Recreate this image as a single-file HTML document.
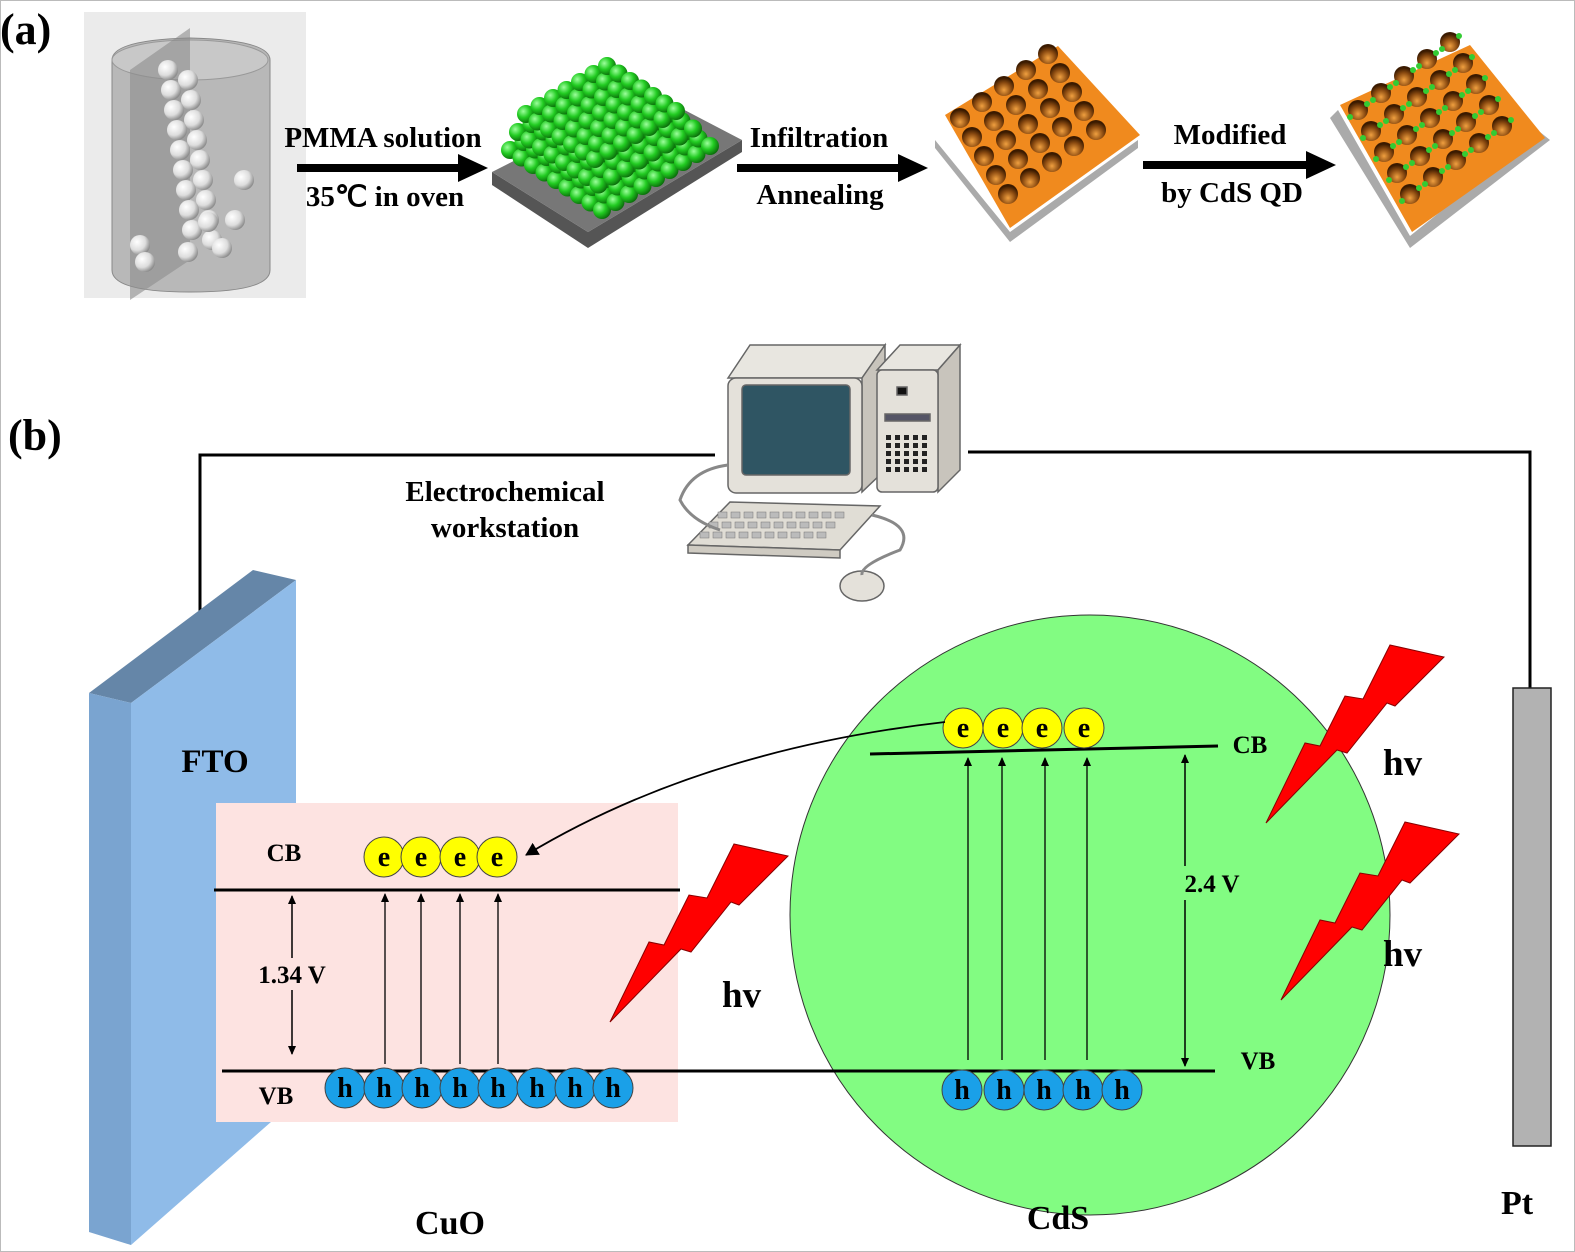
<!DOCTYPE html>
<html><head><meta charset="utf-8"><style>
html,body{margin:0;padding:0;background:#fff}
svg{display:block}
text{font-family:"Liberation Serif",serif;font-weight:bold;fill:#000}
</style></head><body>
<svg id="s" width="1575" height="1252" viewBox="0 0 1575 1252" xmlns="http://www.w3.org/2000/svg">
<defs>
<marker id="ah" markerWidth="10" markerHeight="10" refX="8" refY="5" orient="auto" markerUnits="userSpaceOnUse"><path d="M0,1 L9,5 L0,9 Z" fill="#000"/></marker>
<marker id="ahb" markerWidth="14" markerHeight="14" refX="12" refY="7" orient="auto" markerUnits="userSpaceOnUse"><path d="M0,0 L13,7 L0,14 Z" fill="#000"/></marker>
<radialGradient id="gs" cx="0.35" cy="0.35" r="0.7"><stop offset="0" stop-color="#9cff9c"/><stop offset="0.5" stop-color="#22cc22"/><stop offset="1" stop-color="#0a6a0a"/></radialGradient>
<radialGradient id="ws" cx="0.35" cy="0.35" r="0.7"><stop offset="0" stop-color="#fff"/><stop offset="0.6" stop-color="#ddd"/><stop offset="1" stop-color="#888"/></radialGradient>
<radialGradient id="hole" cx="0.5" cy="0.7" r="0.6"><stop offset="0" stop-color="#f0a040"/><stop offset="0.6" stop-color="#8a4a10"/><stop offset="1" stop-color="#3a1a00"/></radialGradient>
</defs>
<rect x="0.5" y="0.5" width="1574" height="1251" fill="#fff" stroke="#bbb"/>

<!-- (a) -->
<text x="0" y="44" font-size="44">(a)</text>
<rect x="84" y="12" width="222" height="286" fill="#ebebeb"/>
<path d="M112,60 Q112,40 190,38 Q270,40 270,60 L270,270 Q270,292 190,292 Q112,292 112,270 Z" fill="#b8b8b8" stroke="#888"/>
<ellipse cx="190" cy="60" rx="78" ry="20" fill="#c8c8c8" stroke="#999"/>
<polygon points="130,70 190,28 190,260 130,300" fill="#8c8c8c" opacity="0.6"/>
<g id="cylballs"></g>

<g id="gblock">
<polygon points="492,172 588,232 742,140 742,152 588,248 492,185" fill="#555"/>
<polygon points="492,172 588,232 742,140 650,92" fill="#777"/>
</g>
<g id="gballs"></g>

<g id="ob1">
<polygon points="935,148 1010,242 1138,148 1138,140 1010,232 935,140" fill="#aaa"/>
<polygon points="945,115 1010,228 1140,135 1058,46" fill="#f08a1e"/>
</g>
<g id="oh1"></g>
<g id="ob2">
<polygon points="1330,118 1410,248 1550,140 1540,132 1410,236 1338,110" fill="#aaa"/>
<polygon points="1340,105 1412,232 1545,138 1470,45" fill="#f08a1e"/>
</g>
<g id="oh2"></g>

<g stroke="#000" stroke-width="8" fill="none">
<line x1="297" y1="168" x2="462" y2="168"/>
<line x1="737" y1="168" x2="902" y2="168"/>
<line x1="1143" y1="165" x2="1310" y2="165"/>
</g>
<polygon points="458,154 488,168 458,182" fill="#000"/>
<polygon points="898,154 928,168 898,182" fill="#000"/>
<polygon points="1306,151 1336,165 1306,179" fill="#000"/>
<g font-size="29" text-anchor="middle">
<text x="383" y="147">PMMA solution</text>
<text x="385" y="206">35℃  in oven</text>
<text x="819" y="147">Infiltration</text>
<text x="820" y="204">Annealing</text>
<text x="1230" y="144">Modified</text>
<text x="1232" y="202">by CdS QD</text>
</g>

<!-- (b) -->
<text x="8" y="450" font-size="44">(b)</text>
<polyline points="200,630 200,455 715,455" fill="none" stroke="#000" stroke-width="3"/>
<polyline points="968,452 1530,452 1530,688" fill="none" stroke="#000" stroke-width="3"/>
<g font-size="29" text-anchor="middle">
<text x="505" y="501">Electrochemical</text>
<text x="505" y="537">workstation</text>
</g>

<!-- computer -->
<g stroke="#666" stroke-width="1.5">
<polygon points="728,378 750,345 885,345 862,378" fill="#e8e6e0"/>
<polygon points="862,378 885,345 885,470 862,492" fill="#c8c4bc"/>
<rect x="728" y="378" width="134" height="115" rx="8" fill="#e4e1da"/>
<rect x="742" y="385" width="108" height="90" rx="4" fill="#2f5563"/>
<polygon points="877,370 900,345 960,345 938,370" fill="#e8e6e0"/>
<polygon points="938,370 960,345 960,470 938,492" fill="#c8c4bc"/>
<rect x="877" y="370" width="61" height="122" rx="5" fill="#e4e1da"/>
<rect x="897" y="387" width="10" height="8" fill="#111"/>
<rect x="885" y="414" width="45" height="7" fill="#556"/>
<polygon points="688,545 730,502 880,506 840,550" fill="#e0ddd5"/>
<polygon points="688,545 840,550 840,558 688,553" fill="#cfcbc2"/>
<ellipse cx="862" cy="586" rx="22" ry="15" fill="#e4e1da"/>
</g>
<g id="dots"></g>
<path d="M728,465 Q690,470 680,500 Q690,520 720,530" fill="none" stroke="#888" stroke-width="3"/>
<path d="M872,515 Q915,525 900,550 Q860,565 862,575" fill="none" stroke="#888" stroke-width="3"/>

<!-- FTO -->
<polygon points="89,693 253,570 296,580 131,703" fill="#6586a8"/>
<polygon points="89,693 131,703 131,1245 89,1232" fill="#7aa4d0"/>
<polygon points="131,703 296,580 296,1100 131,1245" fill="#8fbbe8"/>
<text x="215" y="772" font-size="33" text-anchor="middle">FTO</text>

<!-- CuO box -->
<rect x="216" y="803" width="462" height="319" fill="#fde3e1"/>
<line x1="214" y1="890" x2="680" y2="890" stroke="#000" stroke-width="3"/>
<text x="284" y="861" font-size="25" text-anchor="middle">CB</text>
<text x="276" y="1104" font-size="25" text-anchor="middle">VB</text>
<line x1="292" y1="1054" x2="292" y2="896" stroke="#000" stroke-width="1.3" marker-end="url(#ah)"/>
<line x1="292" y1="896" x2="292" y2="1054" stroke="#000" stroke-width="1.3" marker-end="url(#ah)"/>
<rect x="252" y="958" width="80" height="32" fill="#fde3e1"/>
<text x="292" y="983" font-size="25" text-anchor="middle">1.34 V</text>

<!-- CdS circle -->
<circle cx="1090" cy="915" r="300" fill="#82fc82" stroke="#333" stroke-width="1"/>
<line x1="222" y1="1071" x2="1215" y2="1071" stroke="#000" stroke-width="3"/>
<line x1="870" y1="754" x2="1218" y2="746" stroke="#000" stroke-width="3"/>
<text x="1250" y="753" font-size="25" text-anchor="middle">CB</text>
<text x="1258" y="1069" font-size="25" text-anchor="middle">VB</text>
<line x1="1185" y1="1066" x2="1185" y2="755" stroke="#000" stroke-width="1.3" marker-end="url(#ah)"/>
<line x1="1185" y1="755" x2="1185" y2="1066" stroke="#000" stroke-width="1.3" marker-end="url(#ah)"/>
<rect x="1175" y="866" width="66" height="34" fill="#82fc82"/>
<text x="1212" y="892" font-size="25" text-anchor="middle">2.4 V</text>

<g id="arrows" stroke="#000" stroke-width="1.3"></g>
<g id="charges"></g>

<path d="M945,722 Q700,750 526,855" fill="none" stroke="#000" stroke-width="1.8" marker-end="url(#ahb)"/>

<!-- bolts -->
<g fill="#ff0000" stroke="#800" stroke-width="1">
<polygon points="1390,645 1444,657 1395,706 1387,703 1347,753 1337,750 1266,823 1305,743 1320,746 1345,696 1363,699"/>
<polygon transform="translate(15,177)" points="1390,645 1444,657 1395,706 1387,703 1347,753 1337,750 1266,823 1305,743 1320,746 1345,696 1363,699"/>
<polygon transform="translate(-656,199)" points="1390,645 1444,657 1395,706 1387,703 1347,753 1337,750 1266,823 1305,743 1320,746 1345,696 1363,699"/>
</g>
<g font-size="37">
<text x="1383" y="775">hv</text>
<text x="1383" y="966">hv</text>
<text x="722" y="1007">hv</text>
</g>

<!-- Pt -->
<rect x="1513" y="688" width="38" height="458" fill="#b2b2b2" stroke="#222" stroke-width="1.5"/>
<g font-size="34" text-anchor="middle">
<text x="450" y="1234">CuO</text>
<text x="1058" y="1229">CdS</text>
<text x="1517" y="1214">Pt</text>
</g>
</svg>
<script>
var NS="http://www.w3.org/2000/svg";
function el(p,t,a){var e=document.createElementNS(NS,t);for(var k in a)e.setAttribute(k,a[k]);document.getElementById(p).appendChild(e);return e;}
for(var i=0;i<9;i++){for(var j=0;j<2;j++){el('cylballs','circle',{cx:168+j*20+i*3,cy:70+i*20+j*10,r:10,fill:'url(#ws)'});}}
[[140,245],[188,252],[222,248],[208,222],[235,220],[244,180],[145,262]].forEach(function(p){el('cylballs','circle',{cx:p[0],cy:p[1],r:10,fill:'url(#ws)'});});
for(var L=0;L<3;L++)for(var r=0;r<9-L;r++)for(var c=0;c<9-L;c++){
 var x=510+c*11.5+r*13.5+L*8, y=150+c*7.5-r*8.0-L*18;
 el('gballs','circle',{cx:x,cy:y,r:9,fill:'url(#gs)'});
}
function holes(g,ox,oy,ux,uy,vx,vy,n,m,dots){
 for(var a=0;a<n;a++)for(var b=0;b<m;b++){
  var x=ox+a*ux+b*vx,y=oy+a*uy+b*vy;
  el(g,'circle',{cx:x,cy:y,r:10,fill:'url(#hole)'});
  if(dots){el(g,'circle',{cx:x+9,cy:y-6,r:3,fill:'#3c3'});el(g,'circle',{cx:x-8,cy:y+7,r:3,fill:'#3c3'});}
 }
}
holes('oh1',960,118,12,19,22,-16,5,5,false);
holes('oh2',1358,110,13,21,23,-17,5,5,true);
for(var r=0;r<3;r++)for(var c=0;c<10;c++)el('dots','rect',{x:718+c*13-r*9,y:512+r*10,width:9,height:6,fill:'#bbb',stroke:'#777','stroke-width':0.5});
for(var r=0;r<5;r++)for(var c=0;c<5;c++)el('dots','rect',{x:886+c*9,y:435+r*8,width:5,height:5,fill:'#222'});
[385,421,460,498].forEach(function(x){el('arrows','line',{x1:x,y1:1064,x2:x,y2:894,'marker-end':'url(#ah)'});});
[968,1002,1045,1087].forEach(function(x){el('arrows','line',{x1:x,y1:1060,x2:x,y2:758,'marker-end':'url(#ah)'});});
function charge(x,y,col,t){el('charges','circle',{cx:x,cy:y,r:20,fill:col,stroke:'#444','stroke-width':1});var tx=el('charges','text',{x:x,y:y+9,'font-size':28,'text-anchor':'middle'});tx.textContent=t;}
[384,421,460,497].forEach(function(x){charge(x,857,'#ffff00','e');});
[963,1003,1042,1084].forEach(function(x){charge(x,728,'#ffff00','e');});
[345,384,422,460,498,537,575,613].forEach(function(x){charge(x,1088,'#1aa0e8','h');});
[962,1004,1044,1083,1122].forEach(function(x){charge(x,1090,'#1aa0e8','h');});
</script>
</body></html>
